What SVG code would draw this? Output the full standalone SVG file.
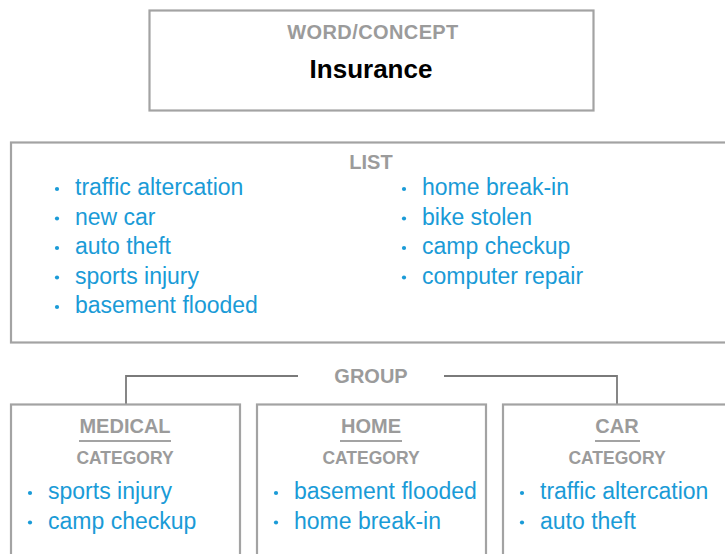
<svg xmlns="http://www.w3.org/2000/svg" width="725" height="554" viewBox="0 0 725 554">
<style>
.box{fill:#fff;stroke:#a3a3a3;stroke-width:2.2}
.hd{font-family:"Liberation Sans",Arial,sans-serif;font-weight:bold;font-size:20px;fill:#9b9b9b;text-anchor:middle}
.cat{font-family:"Liberation Sans",Arial,sans-serif;font-weight:bold;font-size:17.5px;fill:#9b9b9b;text-anchor:middle}
.it{font-family:"Liberation Sans",Arial,sans-serif;font-size:23px;fill:#1a9bd7}
.ul{stroke:#a3a3a3;stroke-width:2}
.conn{fill:none;stroke:#7a7a7a;stroke-width:1.8}
.dot{fill:#1a9bd7}
</style>
<rect width="725" height="554" fill="#fff"/>
<g id="word-concept">
<rect class="box" x="149.5" y="10.5" width="444" height="100"/>
<text class="hd" x="373" y="38.5" letter-spacing="0.4">WORD/CONCEPT</text>
<text x="371" y="78" text-anchor="middle" font-family="'Liberation Sans',Arial,sans-serif" font-weight="bold" font-size="26" fill="#000">Insurance</text>
</g>
<g id="list">
<rect class="box" x="11" y="142.5" width="722" height="200"/>
<text class="hd" x="371" y="168.5">LIST</text>
<circle class="dot" cx="57" cy="189" r="2.1"/><text class="it" x="75" y="195">traffic altercation</text>
<circle class="dot" cx="57" cy="218.5" r="2.1"/><text class="it" x="75" y="224.5">new car</text>
<circle class="dot" cx="57" cy="248" r="2.1"/><text class="it" x="75" y="254">auto theft</text>
<circle class="dot" cx="57" cy="277.5" r="2.1"/><text class="it" x="75" y="283.5">sports injury</text>
<circle class="dot" cx="57" cy="307" r="2.1"/><text class="it" x="75" y="313">basement flooded</text>
<circle class="dot" cx="404" cy="189" r="2.1"/><text class="it" x="422" y="195">home break-in</text>
<circle class="dot" cx="404" cy="218.5" r="2.1"/><text class="it" x="422" y="224.5">bike stolen</text>
<circle class="dot" cx="404" cy="248" r="2.1"/><text class="it" x="422" y="254">camp checkup</text>
<circle class="dot" cx="404" cy="277.5" r="2.1"/><text class="it" x="422" y="283.5">computer repair</text>
</g>
<g id="connectors">
<polyline class="conn" points="126,404 126,376 298,376"/>
<polyline class="conn" points="444,376 617,376 617,404"/>
</g>
<g id="group-label">
<text class="hd" x="371" y="383">GROUP</text>
</g>
<g id="medical">
<rect class="box" x="11" y="404.5" width="229" height="160"/>
<text class="hd" x="125" y="433">MEDICAL</text>
<line class="ul" x1="79" y1="441" x2="171" y2="441"/>
<text class="cat" x="125" y="463.5">CATEGORY</text>
<circle class="dot" cx="30" cy="493" r="2.1"/><text class="it" x="48" y="499">sports injury</text>
<circle class="dot" cx="30" cy="522.5" r="2.1"/><text class="it" x="48" y="528.5">camp checkup</text>
</g>
<g id="home">
<rect class="box" x="257" y="404.5" width="229" height="160"/>
<text class="hd" x="371" y="433">HOME</text>
<line class="ul" x1="340" y1="441" x2="402" y2="441"/>
<text class="cat" x="371" y="463.5">CATEGORY</text>
<circle class="dot" cx="276" cy="493" r="2.1"/><text class="it" x="294" y="499">basement flooded</text>
<circle class="dot" cx="276" cy="522.5" r="2.1"/><text class="it" x="294" y="528.5">home break-in</text>
</g>
<g id="car">
<rect class="box" x="503" y="404.5" width="229" height="160"/>
<text class="hd" x="617" y="433">CAR</text>
<line class="ul" x1="595" y1="441" x2="640" y2="441"/>
<text class="cat" x="617" y="463.5">CATEGORY</text>
<circle class="dot" cx="522" cy="493" r="2.1"/><text class="it" x="540" y="499">traffic altercation</text>
<circle class="dot" cx="522" cy="522.5" r="2.1"/><text class="it" x="540" y="528.5">auto theft</text>
</g>
</svg>
